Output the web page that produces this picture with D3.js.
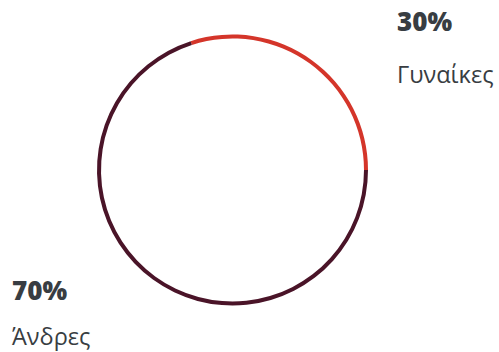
<!DOCTYPE html>
<html>
<head>
<meta charset="utf-8">
<script src="https://cdn.jsdelivr.net/npm/d3@7"></script>
<style>
  body { margin: 0; background: #fff; }
  text { font-family: "Open Sans", "Noto Sans", sans-serif; }
</style>
</head>
<body>
<div id="chart"></div>
<script>
// Data
var labels = ["Γυναίκες", "Άνδρες"];
var values = [30, 70];
var colors = ["#d4352a", "#4a1428"];

var width = 499,
    height = 352;

var svg = d3.select("#chart")
    .append("svg")
    .attr("width", width)
    .attr("height", height);

var g = svg.append("g")
    .attr("transform", "translate(232.5,170)");

// Pie starting at -18 deg so that the women slice ends at the right side
var startAngle = -0.3 * Math.PI * 2 + Math.PI / 2;
var pie = d3.pie()
    .sort(null)
    .startAngle(startAngle)
    .endAngle(startAngle + Math.PI * 2);

var arc = d3.arc()
    .innerRadius(131.5)
    .outerRadius(135.5);

g.selectAll("path")
    .data(pie(values))
    .enter()
    .append("path")
    .attr("d", arc)
    .attr("fill", (d, i) => colors[i]);

// Labels
var labelPos = [
    { x: 397, y: 31 },
    { x: 12, y: 300 }
];

var lab = svg.selectAll("g.lab")
    .data(values)
    .enter()
    .append("g")
    .attr("class", "lab")
    .attr("transform", (d, i) => "translate(" + labelPos[i].x + "," + labelPos[i].y + ")");

lab.append("text")
    .attr("font-size", 26)
    .attr("font-weight", 800)
    .attr("fill", "#383d42")
    .text(d => d + "%");

lab.append("text")
    .attr("y", (d, i) => i == 0 ? 52 : 45)
    .attr("font-size", 23.5)
    .attr("fill", "#383d42")
    .text((d, i) => labels[i]);
</script>
</body>
</html>
